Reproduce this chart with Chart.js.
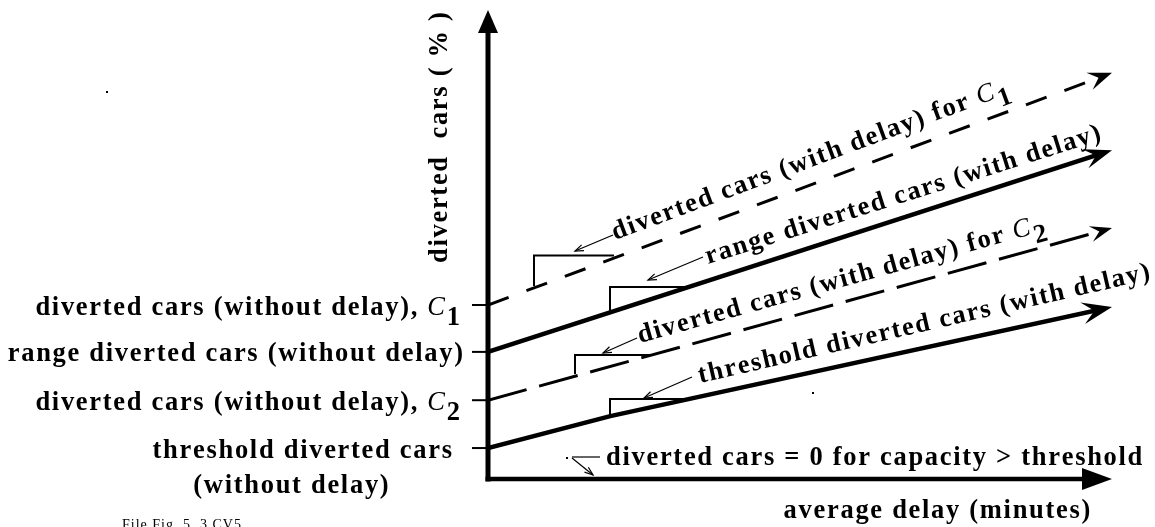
<!DOCTYPE html>
<html><head><meta charset="utf-8">
<script src="https://cdn.jsdelivr.net/npm/chart.js@4.4.1/dist/chart.umd.min.js"></script>
<style>html,body{margin:0;padding:0;background:#fff;overflow:hidden}#wrap{width:1155px;height:527px;position:relative}</style>
</head><body><div id="wrap"><canvas id="c"></canvas></div>
<script>
// ---- data (conceptual diagram, axis units 0..100) ----
const delayC1 = [0, 100];
const divertedC1 = [37.1, 86.6];
const delayRange = [0, 100];
const divertedRange = [27.1, 70.1];
const delayC2 = [0, 100];
const divertedC2 = [16.8, 53.5];
const delayThreshold = [0, 19.6, 100];
const divertedThreshold = [6.6, 13.4, 36.7];
const tickValues = [37.1, 27.1, 16.8, 6.6];
const tickLabels = ["diverted cars (without delay), C1", "range diverted cars (without delay)", "diverted cars (without delay), C2", "threshold diverted cars"];
const tickLabelExtra = "(without delay)";
const lineLabels = ["diverted cars (with delay) for C1", "range diverted cars (with delay)", "diverted cars (with delay) for C2", "threshold diverted cars (with delay)"];
const zeroLabel = "diverted cars = 0 for capacity > threshold";
const yTitle = "diverted  cars ( % )";
const xTitle = "average delay (minutes)";
const fileNote = "File Fig. 5. 3 CV5";

const FONT = "'Liberation Serif','Times New Roman',serif";
const FS = 26.5;
const SP = 1.7;
function zip(xs, ys){ return xs.map((x,i)=>({x:x, y:ys[i]})); }
function segs(str){
  const m = str.match(/^(.*)C([12])$/);
  if (m) return [{t:m[1], f:'bold '+FS+'px '+FONT, dy:0},{t:'C', f:'italic '+FS+'px '+FONT, dy:0},{t:m[2], f:'bold '+FS+'px '+FONT, dy:10}];
  return [{t:str, f:'bold '+FS+'px '+FONT, dy:0}];
}
function measure(ctx, sg, sp){ let w=0,n=0; for(const s of sg){ ctx.font=s.f; for(const ch of s.t){ w+=ctx.measureText(ch).width; n++; } } return w+sp*(n-1); }
function drawSeg(ctx, sg, x, y, sp){ let cx=x; for(const s of sg){ ctx.font=s.f; for(const ch of s.t){ ctx.fillText(ch, cx, y+s.dy); cx+=ctx.measureText(ch).width+sp; } } }
function drawRot(ctx, sg, x, y, deg, sp){ ctx.save(); ctx.translate(x,y); ctx.rotate(-deg*Math.PI/180); drawSeg(ctx, sg, 0, 0, sp); ctx.restore(); }
function line(ctx, x1,y1,x2,y2,w){ ctx.beginPath(); ctx.lineWidth=w; ctx.moveTo(x1,y1); ctx.lineTo(x2,y2); ctx.stroke(); }
function leader(ctx, x1,y1,x2,y2){
  ctx.save(); ctx.lineWidth=1.2; ctx.beginPath(); ctx.moveTo(x1,y1); ctx.lineTo(x2,y2); ctx.stroke();
  const a=Math.atan2(y2-y1,x2-x1), L=9;
  ctx.beginPath();
  ctx.moveTo(x2-L*Math.cos(a-0.35), y2-L*Math.sin(a-0.35)); ctx.lineTo(x2,y2);
  ctx.lineTo(x2-L*Math.cos(a+0.35), y2-L*Math.sin(a+0.35)); ctx.stroke(); ctx.restore();
}
function headGeom(a,b,L,W){
  const dx=b.x-a.x, dy=b.y-a.y, d=Math.hypot(dx,dy), ux=dx/d, uy=dy/d, nx=-uy, ny=ux;
  return {ux,uy,nx,ny,L,W,tx:b.x,ty:b.y};
}

const diagram = {
  id:'diagram',
  beforeDatasetDraw(chart, args){
    const ds = chart.data.datasets[args.index], pts=args.meta.data;
    const g = headGeom(pts[pts.length-2], pts[pts.length-1], ds.headLen, ds.headW);
    const ctx=chart.ctx; ctx.save();
    ctx.beginPath(); ctx.rect(0,0,chart.width,chart.height);
    const bx=g.tx-g.ux*g.L*0.55, by=g.ty-g.uy*g.L*0.55;
    ctx.moveTo(bx+g.nx*14, by+g.ny*14); ctx.lineTo(g.tx+g.ux*8+g.nx*14, g.ty+g.uy*8+g.ny*14);
    ctx.lineTo(g.tx+g.ux*8-g.nx*14, g.ty+g.uy*8-g.ny*14); ctx.lineTo(bx-g.nx*14, by-g.ny*14); ctx.closePath();
    ctx.clip('evenodd');
  },
  afterDatasetDraw(chart, args){
    const ctx=chart.ctx; ctx.restore();
    const ds = chart.data.datasets[args.index], pts=args.meta.data;
    const g = headGeom(pts[pts.length-2], pts[pts.length-1], ds.headLen, ds.headW);
    ctx.save(); ctx.fillStyle='#000'; ctx.beginPath();
    ctx.moveTo(g.tx,g.ty);
    ctx.lineTo(g.tx-g.ux*g.L+g.nx*g.W, g.ty-g.uy*g.L+g.ny*g.W);
    ctx.lineTo(g.tx-g.ux*g.L*0.6, g.ty-g.uy*g.L*0.6);
    ctx.lineTo(g.tx-g.ux*g.L-g.nx*g.W, g.ty-g.uy*g.L-g.ny*g.W);
    ctx.closePath(); ctx.fill(); ctx.restore();
  },
  afterDraw(chart){
    const ctx=chart.ctx, xs=chart.scales.x, ys=chart.scales.y;
    ctx.save(); ctx.strokeStyle='#000'; ctx.fillStyle='#000'; ctx.lineCap='butt';
    const x0=xs.getPixelForValue(0), y0=ys.getPixelForValue(0);
    const xEnd=xs.getPixelForValue(100), yEnd=ys.getPixelForValue(100);
    // axes
    line(ctx, x0, y0+2.5, x0, yEnd+20, 5);
    ctx.beginPath(); ctx.moveTo(x0,yEnd); ctx.lineTo(x0-10,yEnd+23); ctx.lineTo(x0+10,yEnd+23); ctx.closePath(); ctx.fill();
    line(ctx, x0-2.5, y0, xEnd-25, y0, 4.5);
    ctx.beginPath(); ctx.moveTo(xEnd,y0); ctx.lineTo(xEnd-30,y0-11); ctx.lineTo(xEnd-30,y0+11); ctx.closePath(); ctx.fill();
    // ticks and tick labels
    const rights=[460,463,460,452];
    tickValues.forEach((v,i)=>{
      const py=ys.getPixelForValue(v);
      line(ctx, x0-16, py, x0, py, 2);
      const sg=segs(tickLabels[i]); const w=measure(ctx,sg,SP);
      drawSeg(ctx, sg, rights[i]-w, py+9.5, SP);
    });
    { const sg=segs(tickLabelExtra); const w=measure(ctx,sg,SP); drawSeg(ctx, sg, 291-w/2, 493, SP); }
    // slope brackets
    ctx.lineWidth=2;
    [[534,286,255.5,614],[610,312,287,688],[575,374,355,653],[610,417,399,689]].forEach(b=>{
      ctx.beginPath(); ctx.moveTo(b[0],b[1]); ctx.lineTo(b[0],b[2]); ctx.lineTo(b[3],b[2]); ctx.stroke();
    });
    // leaders
    leader(ctx,613,235,575,251);
    leader(ctx,703,257,648,280);
    leader(ctx,637,338,603,353);
    leader(ctx,692,377,644,398);
    ctx.lineWidth=1.2; ctx.beginPath(); ctx.moveTo(600,457); ctx.lineTo(572,457); ctx.stroke();
    leader(ctx,572,458,593,475);
    ctx.fillRect(566,457,2,2);
    ctx.fillRect(812,392,2,2);
    ctx.fillRect(106,91,2,2);
    // line labels
    drawRot(ctx, segs(lineLabels[0]), 615, 240, 20.4, SP);
    drawRot(ctx, segs(lineLabels[1]), 708, 264, 17.5, SP);
    drawRot(ctx, segs(lineLabels[2]), 640, 343, 15.5, SP);
    drawRot(ctx, segs(lineLabels[3]), 700, 383, 13, SP);
    drawSeg(ctx, segs(zeroLabel), 606, 465, SP);
    // axis titles
    drawRot(ctx, segs(yTitle), 447, 263, 90, SP);
    { const sg=segs(xTitle); const w=measure(ctx,sg,SP); drawSeg(ctx, sg, 937-w/2, 518, SP); }
    drawSeg(ctx, [{t:fileNote,f:"14px "+FONT,dy:0}], 122, 529, 1);
    ctx.restore();
  }
};

const common = {showLine:true, pointRadius:0, borderColor:'#000', backgroundColor:'#000', fill:false, tension:0, borderCapStyle:'butt', borderJoinStyle:'round'};
new Chart(document.getElementById('c'), {
  type:'scatter',
  data:{datasets:[
    Object.assign({label:lineLabels[0], data:zip(delayC1, divertedC1), borderWidth:3, borderDash:[22,19], headLen:24, headW:9}, common),
    Object.assign({label:lineLabels[1], data:zip(delayRange, divertedRange), borderWidth:4.5, headLen:28, headW:10}, common),
    Object.assign({label:lineLabels[2], data:zip(delayC2, divertedC2), borderWidth:3, borderDash:[40,13], headLen:22, headW:8}, common),
    Object.assign({label:lineLabels[3], data:zip(delayThreshold, divertedThreshold), borderWidth:4.5, headLen:30, headW:11}, common)
  ]},
  options:{
    responsive:true, maintainAspectRatio:false, animation:false, events:[],
    layout:{padding:{left:488, right:43, top:10, bottom:48}},
    scales:{x:{type:'linear', min:0, max:100, display:false}, y:{type:'linear', min:0, max:100, display:false}},
    plugins:{legend:{display:false}, tooltip:{enabled:false}}
  },
  plugins:[diagram]
});
</script></body></html>
